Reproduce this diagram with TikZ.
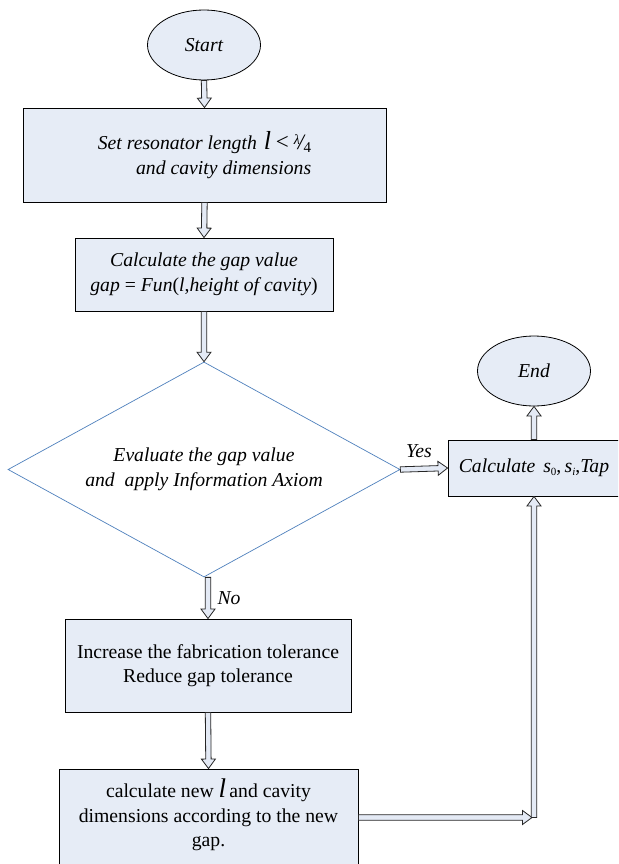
\documentclass[tikz,border=0pt]{standalone}
\usepackage{fontspec}
\setmainfont{Liberation Serif}
\usetikzlibrary{shapes.geometric,calc}
\definecolor{boxfill}{RGB}{230,236,246}
\definecolor{arrfill}{RGB}{228,234,245}
\definecolor{diablue}{RGB}{79,129,189}
\newcommand{\mainsize}{\fontsize{19.7}{24.5}\selectfont}
\tikzset{
  term/.style={ellipse, draw=black, fill=boxfill, line width=0.8pt,
    minimum width=113pt, minimum height=70pt, inner sep=0pt, font=\mainsize\itshape},
  procbox/.style={rectangle, draw=black, fill=boxfill, line width=0.9pt,
    inner sep=0pt, align=center, font=\mainsize},
  decision/.style={diamond, draw=diablue, line width=0.7pt, shape aspect=1.82,
    minimum width=392pt, minimum height=215pt, inner sep=0pt, align=center,
    font=\mainsize\itshape},
  lbl/.style={inner sep=0pt, font=\mainsize\itshape},
  blk/.style={draw=black!85, fill=arrfill, line width=0.8pt, line join=miter,
    to path={let \p1=($(\tikztotarget)!9.5pt!(\tikztostart)$) in
      ($(\tikztostart)!2.7pt!90:(\tikztotarget)$)
      -- ($(\p1)!2.7pt!-90:(\tikztostart)$)
      -- ($(\p1)!7pt!-90:(\tikztostart)$)
      -- (\tikztotarget)
      -- ($(\p1)!7pt!90:(\tikztostart)$)
      -- ($(\p1)!2.7pt!90:(\tikztostart)$)
      -- ($(\tikztostart)!2.7pt!-90:(\tikztotarget)$) -- cycle}}
}
\begin{document}
\begin{tikzpicture}[x=1pt,y=-1pt]
\useasboundingbox (0,0) rectangle (618,864);
\clip (0,0) rectangle (618,864);
\fill[white] (0,0) rectangle (618,864);

\node[term] (start) at (204,45) {Start};
\node[procbox, minimum width=363pt, minimum height=94pt, align=right] (b1) at (204.5,155)
  {\textit{Set resonator length}\hspace{0.35em}{\fontsize{26}{24.5}\selectfont\textit{l}}\hspace{0.25em}{\fontsize{23}{23}\selectfont <}\hspace{0.25em}\raisebox{5pt}{\fontsize{14}{14}\selectfont\textit{λ}}\kern-2pt{\fontsize{22}{22}\selectfont\textit{/}}\kern-2pt\raisebox{-3pt}{\fontsize{15}{15}\selectfont 4}\\
   \textit{and cavity dimensions}\hspace{0.1em}};
\node[procbox, minimum width=258pt, minimum height=73pt] (b2) at (204,274.5)
  {\textit{Calculate the gap value}\\
   \textit{gap} = \textit{Fun}(\textit{l},\textit{height\ of\ cavity})};
\node[decision] (d) at (204,469.5)
  {Evaluate the gap value\\and\ \ apply Information Axiom};
\node[procbox, minimum width=172pt, minimum height=56pt] (calc) at (534,468)
  {\textit{Calculate}\hspace{0.4em}\textit{s}\raisebox{-3pt}{\fontsize{11}{11}\selectfont 0},\,\textit{s}\raisebox{-3pt}{\fontsize{11}{11}\selectfont\textit{i}},\textit{Tap}};
\node[term] (end) at (534,371) {End};
\node[procbox, minimum width=286pt, minimum height=93pt] (b3) at (208,665.5)
  {Increase the fabrication tolerance\\Reduce gap tolerance};
\node[procbox, minimum width=299pt, minimum height=97pt] (b4) at (208.5,817.5)
  {calculate new \smash{\fontsize{27}{24.5}\selectfont\textit{l}}\,and cavity\\dimensions according to the new\\gap.};

\node[lbl] (yes) at (419,451) {Yes};
\node[lbl] (no) at (229,598) {No};

\coordinate (j) at (532,817.5);

\draw[blk] (start.south) to (b1.north);
\draw[blk] (b1.south) to (b2.north);
\draw[blk] (b2.south) to (d.north);
\draw[blk] (d.south -| b3.north) to (b3.north);
\draw[blk] (b3.south) to (b4.north);
\draw[blk] (d.east) to (calc.west);
\draw[blk] (calc.north) to (end.south);
\draw[blk] (b4.east) to (j);
\draw[blk] (j -| calc.south) to (calc.south);
\end{tikzpicture}
\end{document}
